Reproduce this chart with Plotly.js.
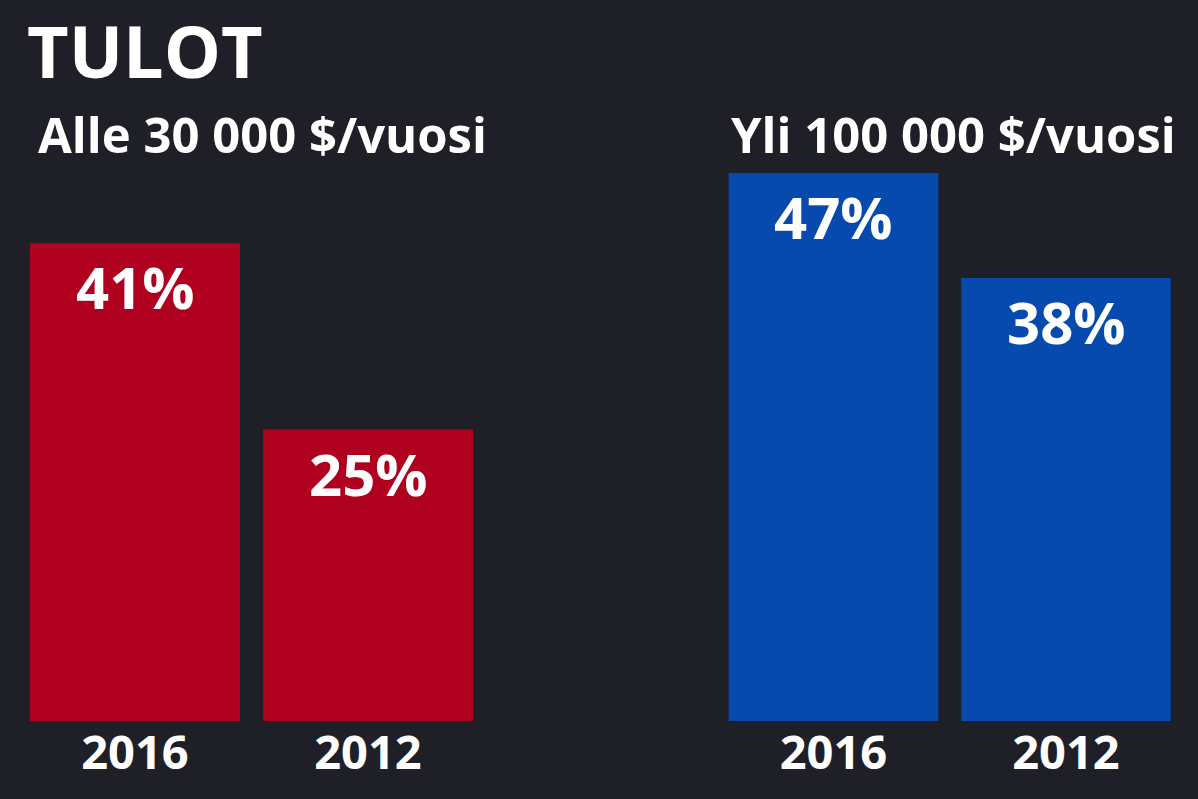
<!DOCTYPE html>
<html><head><meta charset="utf-8">
<script src="https://cdn.plot.ly/plotly-3.0.1.min.js"></script>
<style>html,body{margin:0;padding:0;background:#1e1f27;}#chart{width:1198px;height:799px;}</style>
</head><body><div id="chart"></div>
<script>
const years = ['2016', '2012'];
const lowIncome = [41, 25];
const highIncome = [47, 38];
const groupTitles = ['Alle 30 000 $/vuosi', 'Yli 100 000 $/vuosi'];
const chartTitle = 'TULOT';

const W = 1198, H = 799;
const FONT = 'Open Sans, sans-serif';
const red = '#b00020', blue = '#074aad', bg = '#1e1f27';

const traces = [
  {type:'bar', x: years, y: lowIncome, xaxis:'x', yaxis:'y', marker:{color:red}, hoverinfo:'none'},
  {type:'bar', x: years, y: highIncome, xaxis:'x2', yaxis:'y', marker:{color:blue}, hoverinfo:'none'}
];

const annotations = [];
function addLabels(vals, xref){
  vals.forEach((v,i)=>{
    annotations.push({xref:xref, yref:'y', x: i, y: v, text:'<b>'+v+'%</b>', showarrow:false,
      yanchor:'top', yshift:-2, font:{family:FONT, size:58, color:'#ffffff'}});
  });
}
addLabels(lowIncome, 'x');
addLabels(highIncome, 'x2');
annotations.push({xref:'paper', yref:'paper', x:36/W, y:1-99/H, xanchor:'left', yanchor:'top',
  text:'<b>'+groupTitles[0]+'</b>', showarrow:false, font:{family:FONT, size:49, color:'#ffffff'}});
annotations.push({xref:'paper', yref:'paper', x:1178/W, y:1-99/H, xanchor:'right', yanchor:'top',
  text:'<b>'+groupTitles[1]+'</b>', showarrow:false, font:{family:FONT, size:49, color:'#ffffff'}});
annotations.push({xref:'paper', yref:'paper', x:26/W, y:1, xanchor:'left', yanchor:'top', borderpad:0,
  text:'<b>'+chartTitle+'</b>', showarrow:false, font:{family:FONT, size:72, color:'#ffffff'}});

const xcommon = {type:'category', range:[-0.5,1.5], showgrid:false, zeroline:false, showline:false,
  ticks:'', tickfont:{family:FONT, size:47, color:'#ffffff', weight:'bold'}, fixedrange:true};

const layout = {
  width:W, height:H, paper_bgcolor:bg, plot_bgcolor:bg,
  margin:{l:0,r:0,t:0,b:0}, showlegend:false, bargap:0.0987,
  xaxis: Object.assign({}, xcommon, {domain:[18.5/W, 484.5/W], anchor:'y'}),
  xaxis2: Object.assign({}, xcommon, {domain:[717.25/W, 1182.25/W], anchor:'y'}),
  yaxis: {range:[0,50], domain:[(H-721)/H, (H-138)/H], visible:false, fixedrange:true},
  annotations: annotations
};
Plotly.newPlot('chart', traces, layout, {displayModeBar:false, staticPlot:true});
</script></body></html>
